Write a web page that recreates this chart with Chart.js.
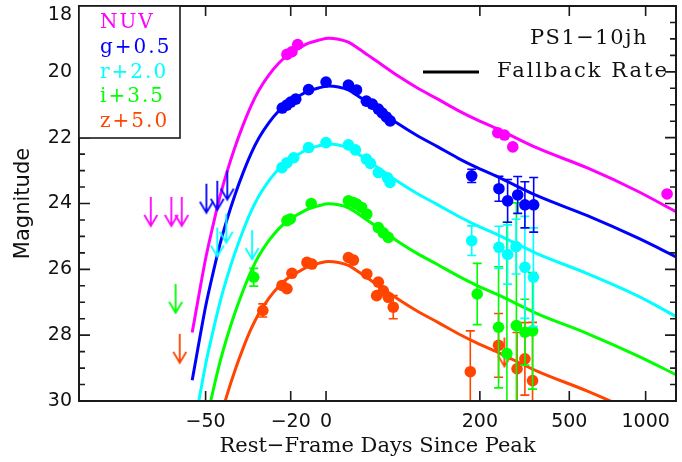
<!DOCTYPE html>
<html>
<head>
<meta charset="utf-8">
<script src="https://cdn.jsdelivr.net/npm/chart.js@4.4.1/dist/chart.umd.min.js"></script>
<style>
  html, body { margin: 0; padding: 0; background: #fff; }
  #wrap { width: 682px; height: 462px; }
</style>
</head>
<body>
<div id="wrap"><canvas id="lc"></canvas></div>
<script>
// x axis is log10(days + T0) so the pre-peak side opens up
const T0 = 80;
const X_MIN = -69.3, X_MAX = 1303;
const xTickDays = [-50, -20, 0, 200, 500, 1000];
const yTicks = [18, 20, 22, 24, 26, 28, 30];

// fallback-rate model, sampled at these rest-frame days
const modelDays = [-53.1, -51.5, -49.9, -48.1, -46.3, -44.3, -41.9, -39.3, -36.6, -33.7,
  -29.8, -25.6, -21.0, -16.0, -10.6, -4.7, 1.6, 8.5, 16.0, 24.1, 32.9, 42.5, 52.8, 64,
  89, 119, 154, 195, 244, 368, 592, 928, 1303];
const nuvModel = [27.92, 26.71, 25.62, 24.65, 23.80, 23.04, 22.29, 21.62, 21.04, 20.56,
  20.10, 19.74, 19.47, 19.29, 19.13, 19.04, 18.98, 19.01, 19.10, 19.29, 19.50, 19.71, 19.92, 20.13,
  20.50, 20.83, 21.17, 21.47, 21.74, 22.32, 22.92, 23.62, 24.25];
const gModel = [29.37, 28.16, 27.07, 26.10, 25.25, 24.49, 23.74, 23.07, 22.49, 22.01,
  21.55, 21.19, 20.92, 20.74, 20.58, 20.49, 20.43, 20.46, 20.55, 20.74, 20.95, 21.16, 21.37, 21.58,
  21.95, 22.28, 22.62, 22.92, 23.19, 23.77, 24.37, 25.04, 25.62];
const rModel = [31.13, 29.92, 28.83, 27.86, 27.01, 26.25, 25.50, 24.83, 24.25, 23.77,
  23.31, 22.95, 22.68, 22.50, 22.34, 22.25, 22.19, 22.22, 22.31, 22.50, 22.71, 22.92, 23.13, 23.34,
  23.71, 24.04, 24.38, 24.68, 24.95, 25.53, 26.13, 26.80, 27.43];
const iModel = [32.95, 31.74, 30.65, 29.68, 28.83, 28.07, 27.32, 26.65, 26.07, 25.59,
  25.13, 24.77, 24.50, 24.32, 24.16, 24.07, 24.01, 24.04, 24.13, 24.32, 24.53, 24.74, 24.95, 25.16,
  25.53, 25.86, 26.20, 26.50, 26.77, 27.35, 27.95, 28.62, 29.20];
const zModel = [34.70, 33.49, 32.40, 31.43, 30.58, 29.82, 29.07, 28.40, 27.82, 27.34,
  26.88, 26.52, 26.25, 26.07, 25.91, 25.82, 25.76, 25.79, 25.88, 26.07, 26.28, 26.49, 26.70, 26.91,
  27.28, 27.61, 27.95, 28.25, 28.52, 29.10, 29.70, 30.37, 30.95];

// detections (days, magnitude incl. offset, 1-sigma error; 0 = no bar)
const nuvDays = [-21.8, -19.4, -16.5, 244, 262, 286, 1206];
const nuvMag  = [19.47, 19.39, 19.17, 21.85, 21.92, 22.28, 23.71];
const nuvErr  = [0, 0, 0, 0, 0, 0, 0];

const gDays = [-24.0, -21.9, -20.0, -17.5, -10.6, 0.0, 16.0, 22.5, 31.1, 36.6, 42.5, 46.4, 50.7, 54.9,
  182, 247, 271, 301, 324, 354];
const gMag  = [21.10, 21.01, 20.92, 20.83, 20.54, 20.31, 20.40, 20.55, 20.89, 20.98, 21.13, 21.25, 21.37, 21.49,
  23.16, 23.55, 23.92, 23.74, 24.04, 24.04];
const gErr  = [0, 0, 0, 0, 0, 0, 0, 0, 0, 0, 0, 0, 0, 0,
  0.2, 0.38, 0.65, 0.56, 0.7, 0.83];

const rDays = [-24.1, -21.8, -18.5, -10.6, 0.0, 16.0, 21.6, 31.1, 34.8, 42.5, 52.1, 54.7,
  182, 247, 271, 296, 324, 353];
const rMag  = [22.91, 22.76, 22.61, 22.30, 22.15, 22.22, 22.37, 22.65, 22.78, 23.06, 23.22, 23.36,
  25.13, 25.33, 25.55, 25.31, 25.94, 26.24];
const rErr  = [0, 0, 0, 0, 0, 0, 0, 0, 0, 0, 0, 0,
  0.45, 0.64, 0.9, 0.83, 1.55, 1.5];

const iDays = [-35.6, -21.8, -20.2, -9.1, 16, 20, 22.6, 26.9, 31.5, 42.5, 47.5, 52.8,
  194, 246, 269, 297, 324, 350];
const iMag  = [26.24, 24.52, 24.47, 24.00, 23.92, 23.97, 24.02, 24.12, 24.32, 24.73, 24.89, 25.03,
  26.75, 27.76, 28.56, 27.71, 27.91, 27.87];
const iErr  = [0.27, 0, 0, 0, 0, 0, 0, 0, 0, 0, 0, 0,
  0.93, 1.84, 3.99, 3.73, 1.0, 1.77];

const zDays = [-32.2, -24.1, -21.8, -19.4, -11.5, -8.7, 16, 20, 31.5, 40.8, 42.5, 47.5, 52.8, 58.3,
  179, 246, 299, 324, 350];
const zMag  = [27.25, 26.49, 26.59, 26.12, 25.79, 25.84, 25.64, 25.72, 26.14, 26.80, 26.39, 26.65, 26.85, 27.15,
  29.11, 28.31, 29.02, 28.72, 29.38];
const zErr  = [0.2, 0, 0, 0, 0, 0, 0, 0, 0, 0, 0, 0, 0, 0.35,
  1.24, 0.97, 1.1, 1.1, 1.77];

// upper limits (arrow starts at the limit and points fainter)
const nuvLimDays = [-60.8, -57.3, -55.3];
const nuvLimMag  = [23.80, 23.80, 23.80];
const gLimDays = [-49.8, -47.0, -44.2];
const gLimMag  = [23.40, 23.31, 23.00];
const rLimDays = [-47.0, -44.5, -36.2];
const rLimMag  = [24.73, 24.31, 24.81];
const iLimDays = [-56.5];
const iLimMag  = [26.44];
const zLimDays = [-55.7, 262];
const zLimMag  = [27.96, 28.07];

const keyLabels = ["NUV", "g+0.5", "r+2.0", "i+3.5", "z+5.0"];
const keyColors = ["#ff00ff", "#0000ff", "#00ffff", "#00ff00", "#ff4500"];

const lx = d => Math.log10(d + T0);
const pts = (days, mags) => days.map((d, k) => ({ x: lx(d), y: mags[k] }));

function arrowImg(color){
  const c = document.createElement("canvas");
  c.width = 16; c.height = 62;
  const g = c.getContext("2d");
  g.strokeStyle = color; g.lineWidth = 1.8;
  g.beginPath();
  g.moveTo(8, 31); g.lineTo(8, 60);
  g.moveTo(1.5, 49); g.lineTo(8, 60); g.lineTo(14.5, 49);
  g.stroke();
  return c;
}

function curve(mags, color){
  return { type: "line", data: pts(modelDays, mags), borderColor: color, borderWidth: 3,
    pointRadius: 0, cubicInterpolationMode: "monotone", fill: false, order: 2 };
}
function dots(days, mags, errs, color){
  return { type: "scatter", data: pts(days, mags), yErr: errs, backgroundColor: color,
    borderColor: color, borderWidth: 0, pointRadius: 5.8, order: 0 };
}
function limits(days, mags, color){
  return { type: "scatter", data: pts(days, mags), pointStyle: arrowImg(color),
    pointRadius: 5, order: 1 };
}

const errorBars = {
  id: "errorBars",
  afterDatasetDraw(chart, args){
    const ds = chart.data.datasets[args.index];
    if (!ds.yErr) return;
    const { ctx, chartArea: a, scales: { x, y } } = chart;
    ctx.save();
    ctx.beginPath(); ctx.rect(a.left, a.top, a.right - a.left, a.bottom - a.top); ctx.clip();
    ctx.strokeStyle = ds.backgroundColor; ctx.lineWidth = 1.6;
    ctx.beginPath();
    ds.data.forEach((p, k) => {
      const e = ds.yErr[k];
      if (!e) return;
      const px = x.getPixelForValue(p.x);
      const y1 = y.getPixelForValue(p.y - e), y2 = y.getPixelForValue(p.y + e);
      ctx.moveTo(px, y1); ctx.lineTo(px, y2);
      ctx.moveTo(px - 4.5, y1); ctx.lineTo(px + 4.5, y1);
      ctx.moveTo(px - 4.5, y2); ctx.lineTo(px + 4.5, y2);
    });
    ctx.stroke();
    ctx.restore();
  }
};

const frame = {
  id: "frame",
  afterDatasetsDraw(chart){
    const { ctx, chartArea: a, scales: { x, y } } = chart;
    ctx.save();
    ctx.strokeStyle = "#1a1a1a";
    ctx.lineWidth = 2;
    ctx.strokeRect(a.left, a.top, a.right - a.left, a.bottom - a.top);
    ctx.lineWidth = 1.6;
    ctx.beginPath();
    for (let m = 18; m <= 30; m += 0.5) {
      const py = y.getPixelForValue(m);
      const len = m % 2 === 0 ? 11 : 6;
      ctx.moveTo(a.left, py); ctx.lineTo(a.left + len, py);
      ctx.moveTo(a.right, py); ctx.lineTo(a.right - len, py);
    }
    x.ticks.forEach(t => {
      const px = x.getPixelForValue(t.value);
      ctx.moveTo(px, a.bottom); ctx.lineTo(px, a.bottom - 10);
      ctx.moveTo(px, a.top); ctx.lineTo(px, a.top + 10);
    });
    ctx.stroke();
    ctx.restore();
  }
};

const keyBox = {
  id: "keyBox",
  afterDraw(chart){
    const { ctx, chartArea: a } = chart;
    ctx.save();
    ctx.fillStyle = "#fff";
    ctx.fillRect(a.left, a.top, 101, 132);
    ctx.strokeStyle = "#1a1a1a"; ctx.lineWidth = 1.6;
    ctx.strokeRect(a.left, a.top, 101, 132);
    ctx.font = '20px "DejaVu Serif"';
    ctx.letterSpacing = "2px";
    ctx.textBaseline = "middle";
    keyLabels.forEach((s, k) => {
      ctx.fillStyle = keyColors[k];
      ctx.fillText(s, a.left + 21, a.top + 17 + k * 24.75);
    });
    // object name and model key, top right
    ctx.fillStyle = "#111";
    ctx.font = '21px "DejaVu Serif"';
    ctx.letterSpacing = "1.5px";
    ctx.textAlign = "center";
    ctx.fillText("PS1\u221210jh", 589, 39);
    ctx.letterSpacing = "2px";
    ctx.textAlign = "left";
    ctx.fillText("Fallback Rate", 497, 72);
    ctx.strokeStyle = "#000"; ctx.lineWidth = 3;
    ctx.beginPath(); ctx.moveTo(423, 72); ctx.lineTo(479, 72); ctx.stroke();
    ctx.restore();
  }
};

const fmtDay = d => d < 0 ? "\u2212" + Math.abs(d) : String(d);
const tickFont = { family: "DejaVu Sans", size: 19 };

new Chart(document.getElementById("lc"), {
  data: {
    datasets: [
      dots(nuvDays, nuvMag, nuvErr, keyColors[0]),
      dots(gDays, gMag, gErr, keyColors[1]),
      dots(rDays, rMag, rErr, keyColors[2]),
      dots(iDays, iMag, iErr, keyColors[3]),
      dots(zDays, zMag, zErr, keyColors[4]),
      limits(nuvLimDays, nuvLimMag, keyColors[0]),
      limits(gLimDays, gLimMag, keyColors[1]),
      limits(rLimDays, rLimMag, keyColors[2]),
      limits(iLimDays, iLimMag, keyColors[3]),
      limits(zLimDays, zLimMag, keyColors[4]),
      curve(nuvModel, keyColors[0]),
      curve(gModel, keyColors[1]),
      curve(rModel, keyColors[2]),
      curve(iModel, keyColors[3]),
      curve(zModel, keyColors[4]),
    ]
  },
  options: {
    responsive: true, maintainAspectRatio: false, animation: false,
    layout: { padding: { top: 5, right: 3, left: 0, bottom: 0 } },
    plugins: { legend: { display: false }, tooltip: { enabled: false } },
    scales: {
      x: {
        type: "linear", min: lx(X_MIN), max: lx(X_MAX),
        afterBuildTicks: s => { s.ticks = xTickDays.map(d => ({ value: lx(d) })); },
        afterFit: s => { s.height = 61; s.paddingLeft = 0; s.paddingRight = 0; },
        grid: { display: false, drawTicks: false }, border: { display: false },
        ticks: { callback: (v, k) => fmtDay(xTickDays[k]), font: tickFont, color: "#111",
          padding: 10, maxRotation: 0, autoSkip: false },
        title: { display: true, text: "Rest\u2212Frame Days Since Peak", color: "#111",
          font: { family: "DejaVu Serif", size: 21 }, padding: { top: 0, bottom: 3 } }
      },
      y: {
        type: "linear", min: 18, max: 30, reverse: true,
        afterBuildTicks: s => { s.ticks = yTicks.map(v => ({ value: v })); },
        afterFit: s => { s.width = 79; s.paddingTop = 0; s.paddingBottom = 0; },
        grid: { display: false, drawTicks: false }, border: { display: false },
        // the top label sits half a line lower so it stays on the canvas
        ticks: { callback: v => v === 18 ? ["", "18"] : String(v),
          font: { family: "DejaVu Sans", size: 19, lineHeight: 1.0 }, color: "#111", padding: 7 },
        title: { display: true, text: "Magnitude", color: "#111",
          font: { family: "DejaVu Sans", size: 21 }, padding: { top: 11, bottom: 0 } }
      }
    }
  },
  plugins: [errorBars, frame, keyBox]
});
</script>
</body>
</html>
